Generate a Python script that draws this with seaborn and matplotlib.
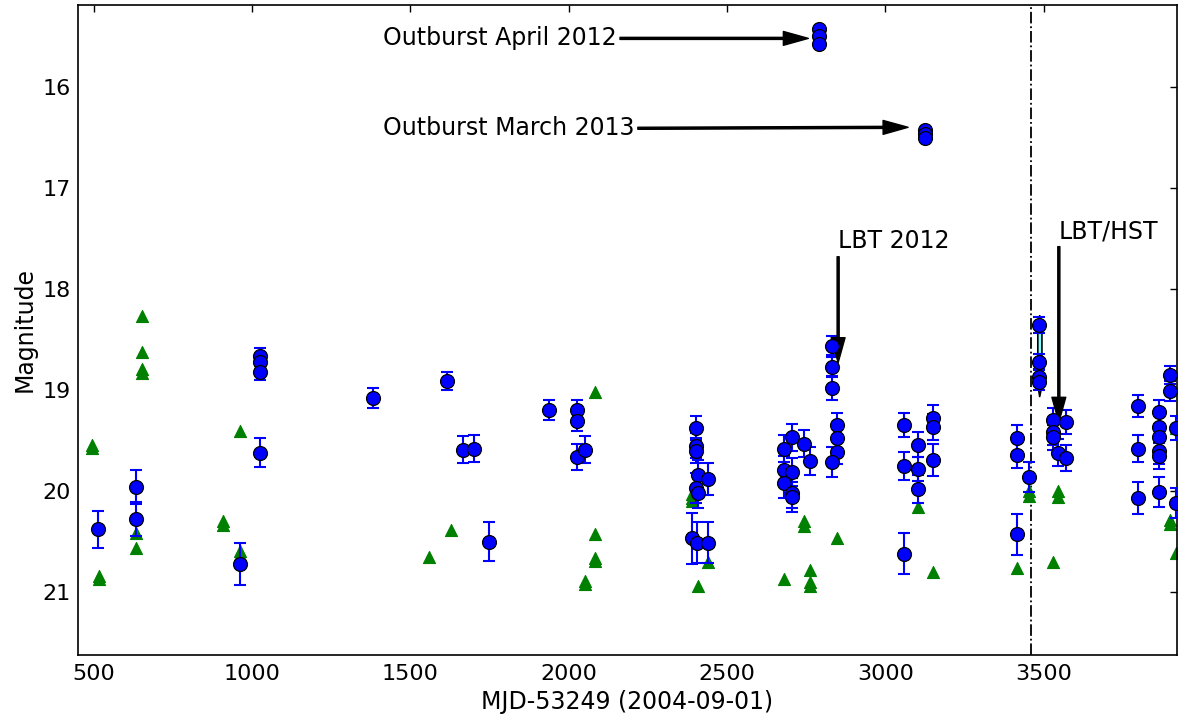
import numpy as np
import pandas as pd
import matplotlib
matplotlib.use("Agg")
import matplotlib.pyplot as plt
import seaborn as sns

# ---- data ----
det_mjd = [515, 634, 634, 963, 1026, 1026, 1026, 1026, 1382, 1616, 1667, 1701, 1749,
           1938, 2026, 2026, 2026, 2052,
           2402, 2402, 2402, 2408, 2440, 2402, 2408, 2389, 2405, 2440,
           2680, 2705, 2742, 2761, 2680, 2705, 2680, 2705, 2705,
           2832, 2832, 2832, 2847, 2847, 2847, 2832,
           3059, 3059, 3104, 3104, 3104, 3151, 3151, 3151, 3059,
           3416, 3416, 3453, 3416,
           3486, 3486, 3486, 3486,
           3530, 3530, 3530, 3545, 3570, 3570,
           3799, 3799, 3799, 3865, 3865, 3865, 3865, 3865, 3865, 3900, 3900, 3918, 3918,
           2790, 2790, 2790, 3124, 3124, 3124]
det_mag = [20.38, 19.96, 20.28, 20.72, 19.62, 18.66, 18.72, 18.82, 19.08, 18.91, 19.59, 19.58, 20.50,
           19.20, 19.20, 19.31, 19.66, 19.59,
           19.38, 19.55, 19.60, 19.84, 19.88, 19.97, 20.02, 20.47, 20.51, 20.51,
           19.58, 19.47, 19.53, 19.70, 19.79, 19.81, 19.92, 20.02, 20.06,
           18.56, 18.77, 18.98, 19.35, 19.48, 19.61, 19.71,
           19.35, 19.75, 19.54, 19.78, 19.98, 19.28, 19.37, 19.69, 20.62,
           19.48, 19.64, 19.86, 20.43,
           18.36, 18.72, 18.87, 18.92,
           19.30, 19.42, 19.47, 19.62, 19.32, 19.67,
           19.16, 19.58, 20.07, 19.22, 19.37, 19.47, 19.60, 19.65, 20.01, 18.85, 19.01, 20.12, 19.38,
           15.43, 15.50, 15.58, 16.43, 16.47, 16.51]
det_err = [0.18, 0.17, 0.17, 0.21, 0.14, 0.08, 0.08, 0.08, 0.10, 0.09, 0.13, 0.13, 0.19,
           0.10, 0.10, 0.10, 0.13, 0.13,
           0.12, 0.12, 0.12, 0.15, 0.16, 0.15, 0.15, 0.25, 0.20, 0.20,
           0.13, 0.13, 0.13, 0.14, 0.14, 0.14, 0.15, 0.15, 0.15,
           0.09, 0.10, 0.12, 0.12, 0.12, 0.12, 0.15,
           0.12, 0.14, 0.12, 0.12, 0.14, 0.13, 0.13, 0.16, 0.20,
           0.13, 0.13, 0.15, 0.20,
           0.08, 0.08, 0.08, 0.08,
           0.12, 0.12, 0.12, 0.13, 0.12, 0.13,
           0.11, 0.13, 0.16, 0.12, 0.12, 0.12, 0.13, 0.13, 0.15, 0.09, 0.10, 0.15, 0.12,
           0.02, 0.02, 0.02, 0.02, 0.02, 0.02]

lim_mjd = [496, 496, 518, 518, 634, 634, 654, 654, 654, 654, 909, 909, 963, 963, 963,
           1559, 1628, 2083, 2083, 2083, 2083, 2052, 2052,
           2389, 2389, 2389, 2440, 2440, 2408, 2742, 2742, 2680, 2761, 2761, 2761, 2847,
           3104, 3151, 3453, 3453, 3416, 3545, 3545, 3530, 3900, 3900, 3918, 3918]
lim_mag = [19.54, 19.57, 20.84, 20.87, 20.42, 20.56, 18.27, 18.62, 18.79, 18.83, 20.30, 20.34, 19.41, 20.59, 20.63,
           20.65, 20.39, 19.02, 20.43, 20.66, 20.69, 20.89, 20.92,
           20.03, 20.07, 20.10, 20.49, 20.70, 20.94, 20.30, 20.35, 20.87, 20.78, 20.90, 20.94, 20.47,
           20.16, 20.80, 20.00, 20.05, 20.76, 20.00, 20.06, 20.70, 20.29, 20.33, 20.61, 19.38]

# HST band (cyan)
hst_mag = [18.26, 18.32, 18.95, 19.06]
hst_left = [3486, 3480, 3480, 3486]
hst_right = [3486, 3493, 3493, 3486]

vline_mjd = 3460

annotations = [
    ("Outburst April 2012", (2757, 15.52), (1414, 15.52)),
    ("Outburst March 2013", (3072, 16.40), (1414, 16.41)),
    ("LBT 2012", (2851, 18.73), (2851, 17.53)),
    ("LBT/HST", (3548, 19.32), (3548, 17.43)),
]

xticks = [500, 1000, 1500, 2000, 2500, 3000, 3500]
yticks = [16, 17, 18, 19, 20, 21]

# ---- style ----
sns.set_style("white")
plt.rcParams["font.family"] = ["DejaVu Sans"]
plt.rcParams.update({
    "text.color": "black", "axes.labelcolor": "black",
    "xtick.direction": "in", "ytick.direction": "in",
    "xtick.top": True, "ytick.right": True,
    "xtick.major.size": 5, "ytick.major.size": 5,
    "xtick.major.width": 1, "ytick.major.width": 1,
    "axes.edgecolor": "black", "axes.linewidth": 1.2,
    "xtick.color": "black", "ytick.color": "black",
})

fig = plt.figure(figsize=(11.79, 7.21), dpi=100)
ax = fig.add_axes([0.066, 0.092, 0.932, 0.901])

det = pd.DataFrame({"mjd": det_mjd, "mag": det_mag, "err": det_err})
lim = pd.DataFrame({"mjd": lim_mjd, "mag": lim_mag})

ax.fill_betweenx(hst_mag, hst_left, hst_right, facecolor="#7fffff",
                 edgecolor="black", linewidth=1.2, zorder=1)

sns.scatterplot(data=lim, x="mjd", y="mag", marker="^", s=75, color="green",
                edgecolor="green", linewidth=0.8, ax=ax, zorder=2, legend=False)

ax.errorbar(det["mjd"], det["mag"], yerr=det["err"], fmt="none", ecolor="blue",
            elinewidth=1.5, capsize=4.5, capthick=1.5, zorder=3)
sns.scatterplot(data=det, x="mjd", y="mag", marker="o", s=100, color="blue",
                edgecolor="black", linewidth=0.9, ax=ax, zorder=4, legend=False)

ax.axvline(vline_mjd, color="black", linestyle="-.", linewidth=1.3, zorder=1)

for text, xy, xytext in annotations:
    ax.annotate(text, xy=xy, xytext=xytext, ha="left", va="center", fontsize=17,
                color="black",
                arrowprops=dict(facecolor="black", edgecolor="black", width=1.5,
                                headwidth=10, headlength=18, shrink=0.0))

ax.set_xlim(450, 3920)
ax.set_ylim(21.62, 15.19)
ax.set_xticks(xticks)
ax.set_yticks(yticks)
ax.tick_params(axis="both", labelsize=16, colors="black")
ax.tick_params(axis="x", pad=7)
ax.tick_params(axis="y", pad=5)
ax.set_xlabel("MJD-53249 (2004-09-01)", fontsize=17, color="black")
ax.set_ylabel("Magnitude", fontsize=17, color="black")

fig.savefig("out.png", dpi=100)
